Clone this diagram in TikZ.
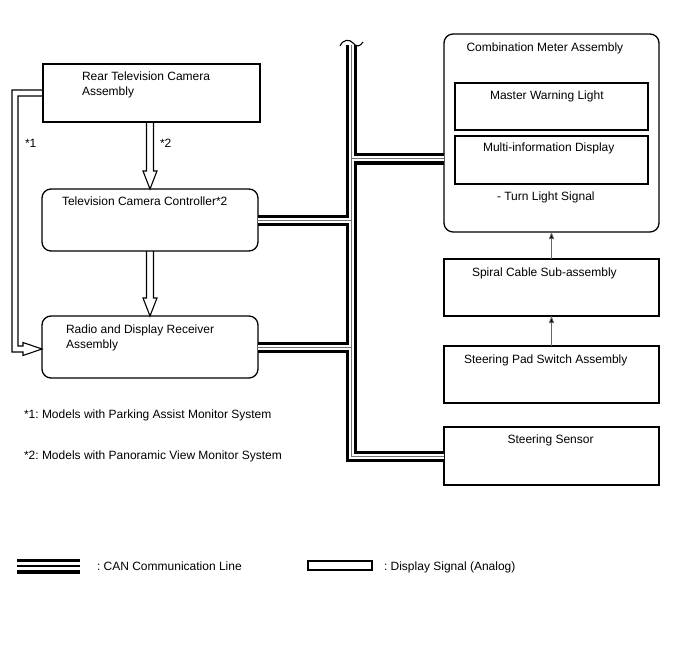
\documentclass[tikz,border=0pt]{standalone}
\usepackage{fontspec}
\setmainfont{Liberation Sans}
\usetikzlibrary{calc,arrows.meta}
\frenchspacing
\newcommand\vhollowarrow[2]{%
  \draw[hollow] ($(#1)+(-3.5,0)$) -- ($(#2)+(-3.5,-18)$) -- ($(#2)+(-7,-18)$) -- (#2)
    -- ($(#2)+(7,-18)$) -- ($(#2)+(3.5,-18)$) -- ($(#1)+(3.5,0)$);}
\begin{document}
\begin{tikzpicture}[x=1pt,y=-1pt,
  box/.style={draw, line width=1.3pt, inner sep=0pt, outer sep=0pt},
  rbox/.style={box, rounded corners=9pt},
  txt/.style={inner sep=0pt, outer sep=0pt, font=\fontsize{12}{15}\selectfont, anchor=base west, align=left},
  canouter/.style={line width=11pt, draw=black},
  canmid/.style={line width=5pt, draw=white},
  caninner/.style={line width=1pt, draw=black!55},
  hollow/.style={line width=1.1pt, line join=miter},
  sig/.style={draw=black!60, line width=0.8pt, -{Triangle[length=7pt,width=5pt,fill=black]}},
]
\useasboundingbox (0,0) rectangle (688,658);

% boxes
\node[box,  minimum width=217pt, minimum height=58pt]  (rear)   at (151.5,93) {};
\node[rbox, minimum width=216pt, minimum height=62pt]  (ctrl)   at (150,220) {};
\node[rbox, minimum width=216pt, minimum height=62pt]  (radio)  at (150,347) {};
\node[rbox, minimum width=215pt, minimum height=198pt] (cm)     at (551.5,133) {};
\node[box,  minimum width=193pt, minimum height=47pt]  (mwl)    at (551.5,106.5) {};
\node[box,  minimum width=193pt, minimum height=48pt]  (mid)    at (551.5,160) {};
\node[box,  minimum width=215pt, minimum height=57pt]  (spiral) at (551.5,287.5) {};
\node[box,  minimum width=215pt, minimum height=57pt]  (pad)    at (551.5,374.5) {};
\node[box,  minimum width=215pt, minimum height=58pt]  (sensor) at (551.5,456) {};

% texts (two-line nodes are anchored at the baseline of their last line)
\node[txt] (t-rear)   at (82,95.5)    {Rear Television Camera\\Assembly};
\node[txt] (t1)       at (25,147)     {*1};
\node[txt] (t2)       at (160,147)    {*2};
\node[txt] (t-ctrl)   at (62,205)     {Television Camera Controller*2};
\node[txt] (t-radio)  at (66,348)     {Radio and Display Receiver\\Assembly};
\node[txt] (fn1)      at (24,418)     {*1: Models with Parking Assist Monitor System};
\node[txt] (fn2)      at (24,459)     {*2: Models with Panoramic View Monitor System};
\node[txt] (t-cm)     at (466.5,51.5) {Combination Meter Assembly};
\node[txt] (t-mwl)    at (490,100)    {Master Warning Light};
\node[txt] (t-mid)    at (483,151.5)  {Multi-information Display};
\node[txt] (t-turn)   at (497,200.5)  {- Turn Light Signal};
\node[txt] (t-spiral) at (472,276.5)  {Spiral Cable Sub-assembly};
\node[txt] (t-pad)    at (464,363)    {Steering Pad Switch Assembly};
\node[txt] (t-sensor) at (507.5,443)  {Steering Sensor};
\node[txt] (l1)       at (97,570)     {: CAN Communication Line};
\node[txt] (l2)       at (384,570)    {: Display Signal (Analog)};

% CAN bus
\coordinate (ttop) at (351.5,45);
\coordinate (cmj) at ($(cm.south west)+(0,-73)$);
\foreach \s in {canouter,canmid,caninner}{
  \draw[\s] (ttop) |- (sensor.west)
    (ctrl.east) -- (ctrl.east -| ttop)
    (radio.east) -- (radio.east -| ttop)
    (ttop |- cmj) -- (cmj);
}
\draw[line width=1.1pt] (340,46) .. controls (343,39) and (350,39) .. (353,43)
  .. controls (356,47) and (360,47) .. (363,42);

% display signal (hollow) arrows
\coordinate (a1s) at (ctrl.north |- rear.south);
\vhollowarrow{a1s}{ctrl.north}
\vhollowarrow{ctrl.south}{radio.north}
\coordinate (Ls) at (rear.west);
\coordinate (Le) at ($(radio.west)+(0,2)$);
\coordinate (Lc) at (15,0);
\draw[hollow] ($(Ls)+(0,-3)$) -| ($(Lc |- Le)+(-3,3)$) -- ($(Le)+(-19,3)$)
  -- ($(Le)+(-19,6.5)$) -- (Le) -- ($(Le)+(-19,-6.5)$) -- ($(Le)+(-19,-3)$)
  -- ($(Lc |- Le)+(3,-3)$) |- ($(Ls)+(0,3)$);

% thin signal arrows
\draw[sig] (spiral.north) -- (cm.south);
\draw[sig] (pad.north) -- (spiral.south);

% legend
\coordinate (legA) at (17,566);
\coordinate (legB) at (80,566);
\draw[line width=15pt, black] (legA) -- (legB);
\draw[line width=8pt, white] (legA) -- (legB);
\draw[line width=1.8pt, black] (legA) -- (legB);
\node[box, line width=1.2pt, minimum width=64pt, minimum height=9pt] (legsig) at (340,565.5) {};
\end{tikzpicture}
\end{document}
